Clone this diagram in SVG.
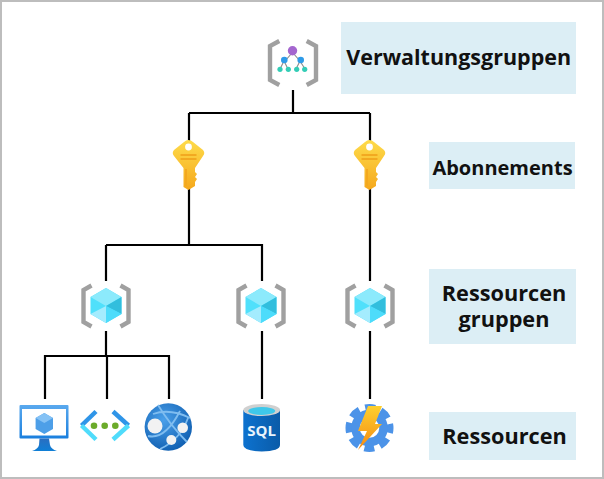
<svg xmlns="http://www.w3.org/2000/svg" width="604" height="479" viewBox="0 0 604 479">
<style>
.lb{fill:#dceef5}
.t{font-family:"Open Sans","Noto Sans",sans-serif;font-weight:700;font-size:21.700px;fill:#111;text-anchor:middle}
.c{fill:none;stroke:#000;stroke-width:2.200}
.br{fill:none;stroke:#a0a0a0;stroke-width:4.400}
.dot{fill:#fff}
</style>
<defs>
<linearGradient id="kg" x1="0" y1="0" x2="0" y2="1"><stop offset="0" stop-color="#fedb4a"/><stop offset="1" stop-color="#f5a81c"/></linearGradient>
<linearGradient id="st" x1="0" y1="0" x2="0" y2="1"><stop offset="0" stop-color="#2a6ec0"/><stop offset="1" stop-color="#0f7fd6"/></linearGradient>
<linearGradient id="mon" x1="0" y1="0" x2="0" y2="1"><stop offset="0" stop-color="#5aa9ee"/><stop offset="1" stop-color="#1a7fde"/></linearGradient>
<linearGradient id="sq" x1="0" y1="0" x2="1" y2="0"><stop offset="0" stop-color="#0d72cf"/><stop offset="1" stop-color="#0a5ba8"/></linearGradient>
<radialGradient id="gl" cx="0.4" cy="0.35" r="0.7"><stop offset="0" stop-color="#4aa0ea"/><stop offset="1" stop-color="#0f5eb0"/></radialGradient>
<linearGradient id="bolt" x1="0" y1="0" x2="0" y2="1"><stop offset="0" stop-color="#fdd02e"/><stop offset="1" stop-color="#f58a14"/></linearGradient>
<g id="key">
<path d="M0-21 Q2.500-21 4.500-19 L14.500-11 Q17-8 14.500-5 L6.500 7 L6.500 11 L8.500 13 L6.500 16 L8.500 18 L6.500 21 L6.500 25 L0 29 L-5 26 L-5 7 L-14.500-5 Q-17-8-14.500-11 L-4.500-19 Q-2.500-21 0-21Z" fill="url(#kg)"/>
<circle cy="-14" r="3.400" class="dot"/>
<path d="M-8-6H8M-8-2H8" stroke="#ef9f18" stroke-width="1.600" fill="none"/>
<path d="M-2.500 8V25" stroke="#f3a81f" stroke-width="2" fill="none"/>
</g>
<g id="rg">
<path class="br" d="M-14.500-20.500 L-22.500-16 V16 L-14.500 20.500"/>
<path class="br" d="M14.500-20.500 L22.500-16 V16 L14.500 20.500"/>
<path d="M0-18 L15.500-9 V8 L0 17 L-15.500 8 V-9Z" fill="#50e0fb"/>
<path d="M0-18 L15.500-9 L0 0 L-15.500-9Z" fill="#8ceafc"/>
<path d="M15.500-9 V8 L0 0Z" fill="#32bedd"/>
<path d="M0 0 L15.500 8 L0 17Z" fill="#4ddcfb"/>
<path d="M0 0 L-15.500 8 L0 17Z" fill="#a4ecfe"/>
</g>
</defs>
<rect width="604" height="479" fill="#fff"/>
<rect x="1" y="1" width="602" height="477" fill="none" stroke="#bdbdbd" stroke-width="2"/>
<g id="connectors">
<path class="c" d="M293 90V113M189 113H370M189 113V245M370 113V281M106 245H262V281M106 245V281M106 331V356M45 399V356H169V399M107 356V399M262 331V399M370 331V399"/>
</g>
<g id="label-verwaltungsgruppen"><rect class="lb" x="341" y="22" width="235" height="72"/><text class="t" x="458.700" y="65" style="font-size:21.500px">Verwaltungsgruppen</text></g>
<g id="label-abonnements"><rect class="lb" x="429" y="142" width="146" height="47"/><text class="t" x="502.500" y="175" style="font-size:20px">Abonnements</text></g>
<g id="label-ressourcengruppen"><rect class="lb" x="429" y="269" width="147" height="75"/><text class="t" y="300.500"><tspan x="504">Ressourcen</tspan><tspan x="504" dy="26">gruppen</tspan></text></g>
<g id="label-ressourcen"><rect class="lb" x="429" y="412" width="147" height="48"/><text class="t" x="504.500" y="444">Ressourcen</text></g>
<g id="mgmt">
<path class="br" d="M279.300 41 L270 46V80L279.300 85"/>
<path class="br" d="M306.700 41 L316 46V80L306.700 85"/>
<path d="M292 53L285 61M293 53L300 61M284 61L280 69M284 61L288 69M300 61L296 69M300 61L305 69" stroke="#8a8a8a" stroke-width="1.100" fill="none"/>
<circle cx="292.500" cy="50.700" r="4.700" fill="#a466cf"/>
<circle cx="284.300" cy="60" r="3.300" fill="#2e9be8"/><circle cx="300.700" cy="60" r="3.300" fill="#2e9be8"/>
<g fill="#33cdb6"><circle cx="280" cy="69.300" r="2.600"/><circle cx="288.300" cy="69.300" r="2.600"/><circle cx="296.700" cy="69.300" r="2.600"/><circle cx="304.700" cy="69.300" r="2.600"/></g>
</g>
<g id="sub1"><use href="#key" x="188.500" y="161"/></g>
<g id="sub2"><use href="#key" x="369.500" y="161"/></g>
<g id="rg1"><use href="#rg" x="106" y="306"/></g>
<g id="rg2"><use href="#rg" x="261" y="306"/></g>
<g id="rg3"><use href="#rg" x="370" y="306"/></g>
<g id="vm">
<rect x="19.500" y="405" width="49" height="33.500" rx="1" fill="url(#mon)"/>
<rect x="22" y="409" width="44" height="26.500" fill="#fff"/>
<path d="M44.300 413L53 418V429L44.300 434L35.600 429V418Z" fill="#4d9fe8"/>
<path d="M44.300 413L53 418L44.300 423L35.600 418Z" fill="#85c2f5"/>
<path d="M39.500 438.500H49L50 445Q51 449 57 451H32Q38 449 39 445Z" fill="url(#st)"/>
</g>
<g id="vnet">
<path d="M96 411.500L81.500 425.500" fill="none" stroke="#2f95e8" stroke-width="4.500"/>
<path d="M96 439.500L81.500 425.500" fill="none" stroke="#50dcfb" stroke-width="4.500"/>
<path d="M113 411.500L128.500 425.500" fill="none" stroke="#2f95e8" stroke-width="4.500"/>
<path d="M113 439.500L128.500 425.500" fill="none" stroke="#50dcfb" stroke-width="4.500"/>
<g fill="#6bab2a"><circle cx="94" cy="425.700" r="3.300"/><circle cx="104.700" cy="425.700" r="3.300"/><circle cx="115.300" cy="425.700" r="3.300"/></g>
</g>
<g id="web">
<circle cx="168.300" cy="427" r="23.700" fill="url(#gl)"/>
<path d="M158 405Q170 425 187 442M148 436Q165 440 180 411M153 414Q170 408 190 418M160 449Q180 440 188 418" fill="none" stroke="#7fbdf0" stroke-width="1.800"/>
<circle cx="155" cy="426" r="7.500" fill="#f2f2f2"/><circle cx="182.700" cy="427.700" r="5.300" fill="#f2f2f2"/><circle cx="171.300" cy="440" r="5" fill="#f2f2f2"/>
</g>
<g id="sql">
<path d="M243.300 410V445Q243.300 451 261.700 451.500Q280 451 280 445V410Z" fill="url(#sq)"/>
<ellipse cx="261.700" cy="410" rx="18.400" ry="6" fill="#d0d0d0"/>
<ellipse cx="261.700" cy="411" rx="13.500" ry="3.900" fill="#3fc8ea"/>
<text x="261.700" y="435.700" font-family="'Open Sans','Noto Sans',sans-serif" font-weight="700" font-size="15" fill="#e8f3fc" text-anchor="middle">SQL</text>
</g>
<g id="automation">
<circle cx="369.500" cy="428" r="20.500" fill="none" stroke="#4c93e8" stroke-width="7" stroke-dasharray="10 6.100" stroke-dashoffset="5"/>
<circle cx="369.500" cy="428" r="14" fill="none" stroke="#4c93e8" stroke-width="8.500"/>
<path d="M368 406H382L375 424H382L358 450L367 431H358Z" fill="url(#bolt)"/>
</g>
</svg>
